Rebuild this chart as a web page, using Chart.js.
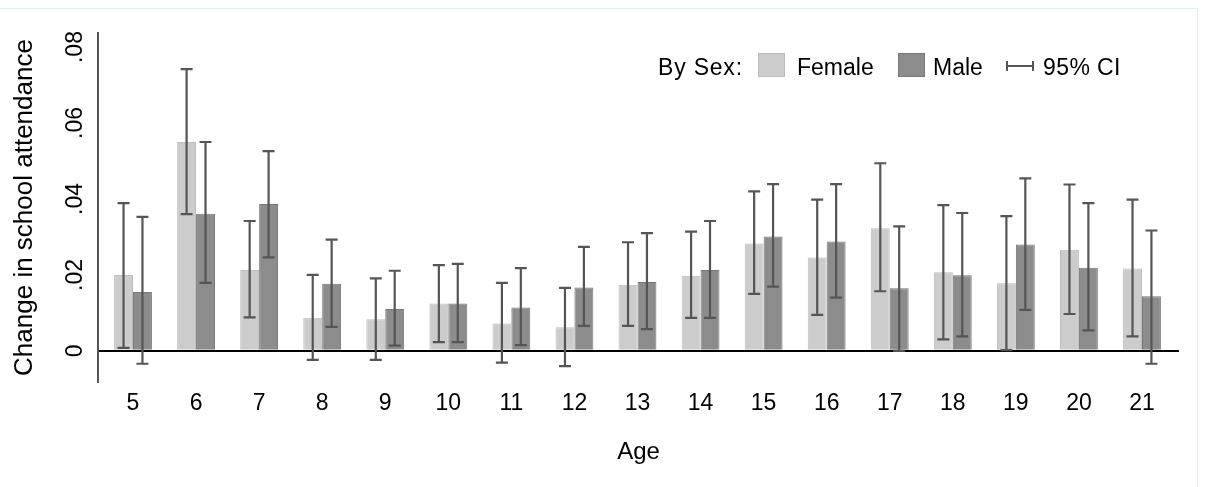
<!DOCTYPE html>
<html>
<head>
<meta charset="utf-8">
<script src="https://cdn.jsdelivr.net/npm/chart.js@4.4.1/dist/chart.umd.min.js"></script>
<style>
  body { margin: 0; background: #fff; font-family: "Liberation Sans", Arial, sans-serif; }
  #wrap { position: relative; width: 1208px; height: 487px; overflow: hidden; }
  #frame { position: absolute; left: -1px; top: 8px; width: 1197px; height: 490px; border: 1px solid #e4edf0; }
  #chart { position: absolute; left: 0; top: 0; }
  .lg { position: absolute; top: 54px; font-size: 23px; line-height: 26px; color: #000; white-space: nowrap; }
  .sw { position: absolute; top: 53px; width: 25px; height: 22px; border: 1px solid; }
  #ci { position: absolute; left: 1006px; top: 60px; }
</style>
</head>
<body>
<div id="wrap">
  <div id="frame"></div>
  <canvas id="chart" width="1208" height="487"></canvas>
  <div class="lg" style="left:658px;letter-spacing:0.8px">By Sex:</div>
  <div class="sw" style="left:758px;background:#cccccc;border-color:#bdbdbd"></div>
  <div class="lg" style="left:797px">Female</div>
  <div class="sw" style="left:898px;background:#8c8c8c;border-color:#777777"></div>
  <div class="lg" style="left:933px">Male</div>
  <svg id="ci" width="28" height="12"><path d="M1 1V11M1 6H27M27 1V11" stroke="#555" stroke-width="2" fill="none"/></svg>
  <div class="lg" style="left:1043px;letter-spacing:0.4px">95% CI</div>
</div>
<script>
// Données
const ages = [5, 6, 7, 8, 9, 10, 11, 12, 13, 14, 15, 16, 17, 18, 19, 20, 21];

const femaleEst = [0.0200, 0.0550, 0.0213, 0.0087, 0.0083, 0.0125, 0.0072, 0.0062, 0.0174, 0.0198, 0.0283, 0.0246, 0.0323, 0.0207, 0.0178, 0.0266, 0.0217];
const femaleLo  = [0.0008, 0.0360, 0.0088, -0.0024, -0.0024, 0.0023, -0.0031, -0.0040, 0.0066, 0.0087, 0.0150, 0.0095, 0.0157, 0.0030, 0.0002, 0.0097, 0.0038];
const femaleHi  = [0.0389, 0.0742, 0.0342, 0.0200, 0.0191, 0.0226, 0.0179, 0.0166, 0.0286, 0.0314, 0.0420, 0.0398, 0.0494, 0.0384, 0.0355, 0.0438, 0.0398];

const maleEst = [0.0155, 0.0361, 0.0387, 0.0177, 0.0110, 0.0125, 0.0114, 0.0167, 0.0181, 0.0213, 0.0301, 0.0288, 0.0165, 0.0199, 0.0280, 0.0219, 0.0144];
const maleLo  = [-0.0034, 0.0179, 0.0246, 0.0063, 0.0014, 0.0023, 0.0015, 0.0066, 0.0057, 0.0087, 0.0169, 0.0140, 0.0000, 0.0038, 0.0108, 0.0054, -0.0034];
const maleHi  = [0.0353, 0.0550, 0.0526, 0.0293, 0.0211, 0.0229, 0.0218, 0.0274, 0.0310, 0.0342, 0.0439, 0.0439, 0.0328, 0.0363, 0.0454, 0.0389, 0.0317];

const yTicks = [0, 0.02, 0.04, 0.06, 0.08];
const yTickLabels = ['0', '.02', '.04', '.06', '.08'];

const FONT = '"Liberation Sans", Arial, sans-serif';

// Barres d'erreur (IC 95%) + étiquettes verticales de l'axe Y
const ciPlugin = {
  id: 'ciBars',
  afterDatasetsDraw(chart) {
    const ctx = chart.ctx;
    const y = chart.scales.y;
    const bounds = [[femaleLo, femaleHi], [maleLo, maleHi]];
    ctx.save();
    ctx.strokeStyle = '#555';
    ctx.lineWidth = 2.2;
    bounds.forEach(([lo, hi], d) => {
      chart.getDatasetMeta(d).data.forEach((bar, i) => {
        const x = bar.x;
        const top = y.getPixelForValue(hi[i]);
        const bot = y.getPixelForValue(lo[i]);
        ctx.beginPath();
        ctx.moveTo(x, top); ctx.lineTo(x, bot);
        ctx.moveTo(x - 6, top); ctx.lineTo(x + 6, top);
        ctx.moveTo(x - 6, bot); ctx.lineTo(x + 6, bot);
        ctx.stroke();
      });
    });
    ctx.fillStyle = '#000';
    ctx.font = '23px ' + FONT;
    ctx.textAlign = 'center';
    ctx.textBaseline = 'middle';
    yTicks.forEach((v, i) => {
      ctx.save();
      ctx.translate(76, y.getPixelForValue(v));
      ctx.rotate(-Math.PI / 2);
      ctx.fillText(yTickLabels[i], 0, 0);
      ctx.restore();
    });
    ctx.restore();
  }
};

function initChart() {
  const ctx = document.getElementById('chart');
  new Chart(ctx, {
    type: 'bar',
    data: {
      datasets: [{
        label: 'Female',
        data: ages.map((a, i) => ({ x: a, y: femaleEst[i] })),
        backgroundColor: '#cccccc',
        borderColor: '#bdbdbd',
        borderWidth: 1
      }, {
        label: 'Male',
        data: ages.map((a, i) => ({ x: a, y: maleEst[i] })),
        backgroundColor: '#8c8c8c',
        borderColor: '#777777',
        borderWidth: 1
      }]
    },
    options: {
      responsive: false,
      animation: false,
      categoryPercentage: 0.6,
      barPercentage: 1.0,
      layout: { padding: { top: 33, right: 29, bottom: 0, left: 0 } },
      plugins: {
        legend: { display: false },
        tooltip: { enabled: false }
      },
      scales: {
        x: {
          type: 'linear',
          offset: false,
          min: 4.445,
          max: 21.587,
          afterBuildTicks: (s) => { s.ticks = ages.map(v => ({ value: v })); },
          afterFit: (s) => { s.height = 105; },
          grid: { display: false, drawTicks: false, offset: false },
          border: { display: false },
          ticks: {
            color: '#000',
            padding: 8,
            maxRotation: 0,
            font: { family: FONT, size: 23 },
            callback: (v) => String(v)
          },
          title: {
            display: true,
            text: 'Age',
            color: '#000',
            font: { family: FONT, size: 24 },
            padding: { top: 0, bottom: 20 }
          }
        },
        y: {
          min: -0.0082,
          max: 0.0837,
          afterFit: (s) => { s.width = 98; },
          ticks: { display: false, stepSize: 0.02 },
          grid: {
            drawTicks: false,
            color: (c) => (c.tick && c.tick.value === 0 ? '#000' : 'transparent'),
            lineWidth: 2
          },
          border: { display: true, color: '#555', width: 2 },
          title: {
            display: true,
            text: 'Change in school attendance',
            color: '#000',
            font: { family: FONT, size: 26 },
            padding: { top: 9, bottom: 0 }
          }
        }
      }
    },
    plugins: [ciPlugin]
  });
}

initChart();
</script>
</body>
</html>
